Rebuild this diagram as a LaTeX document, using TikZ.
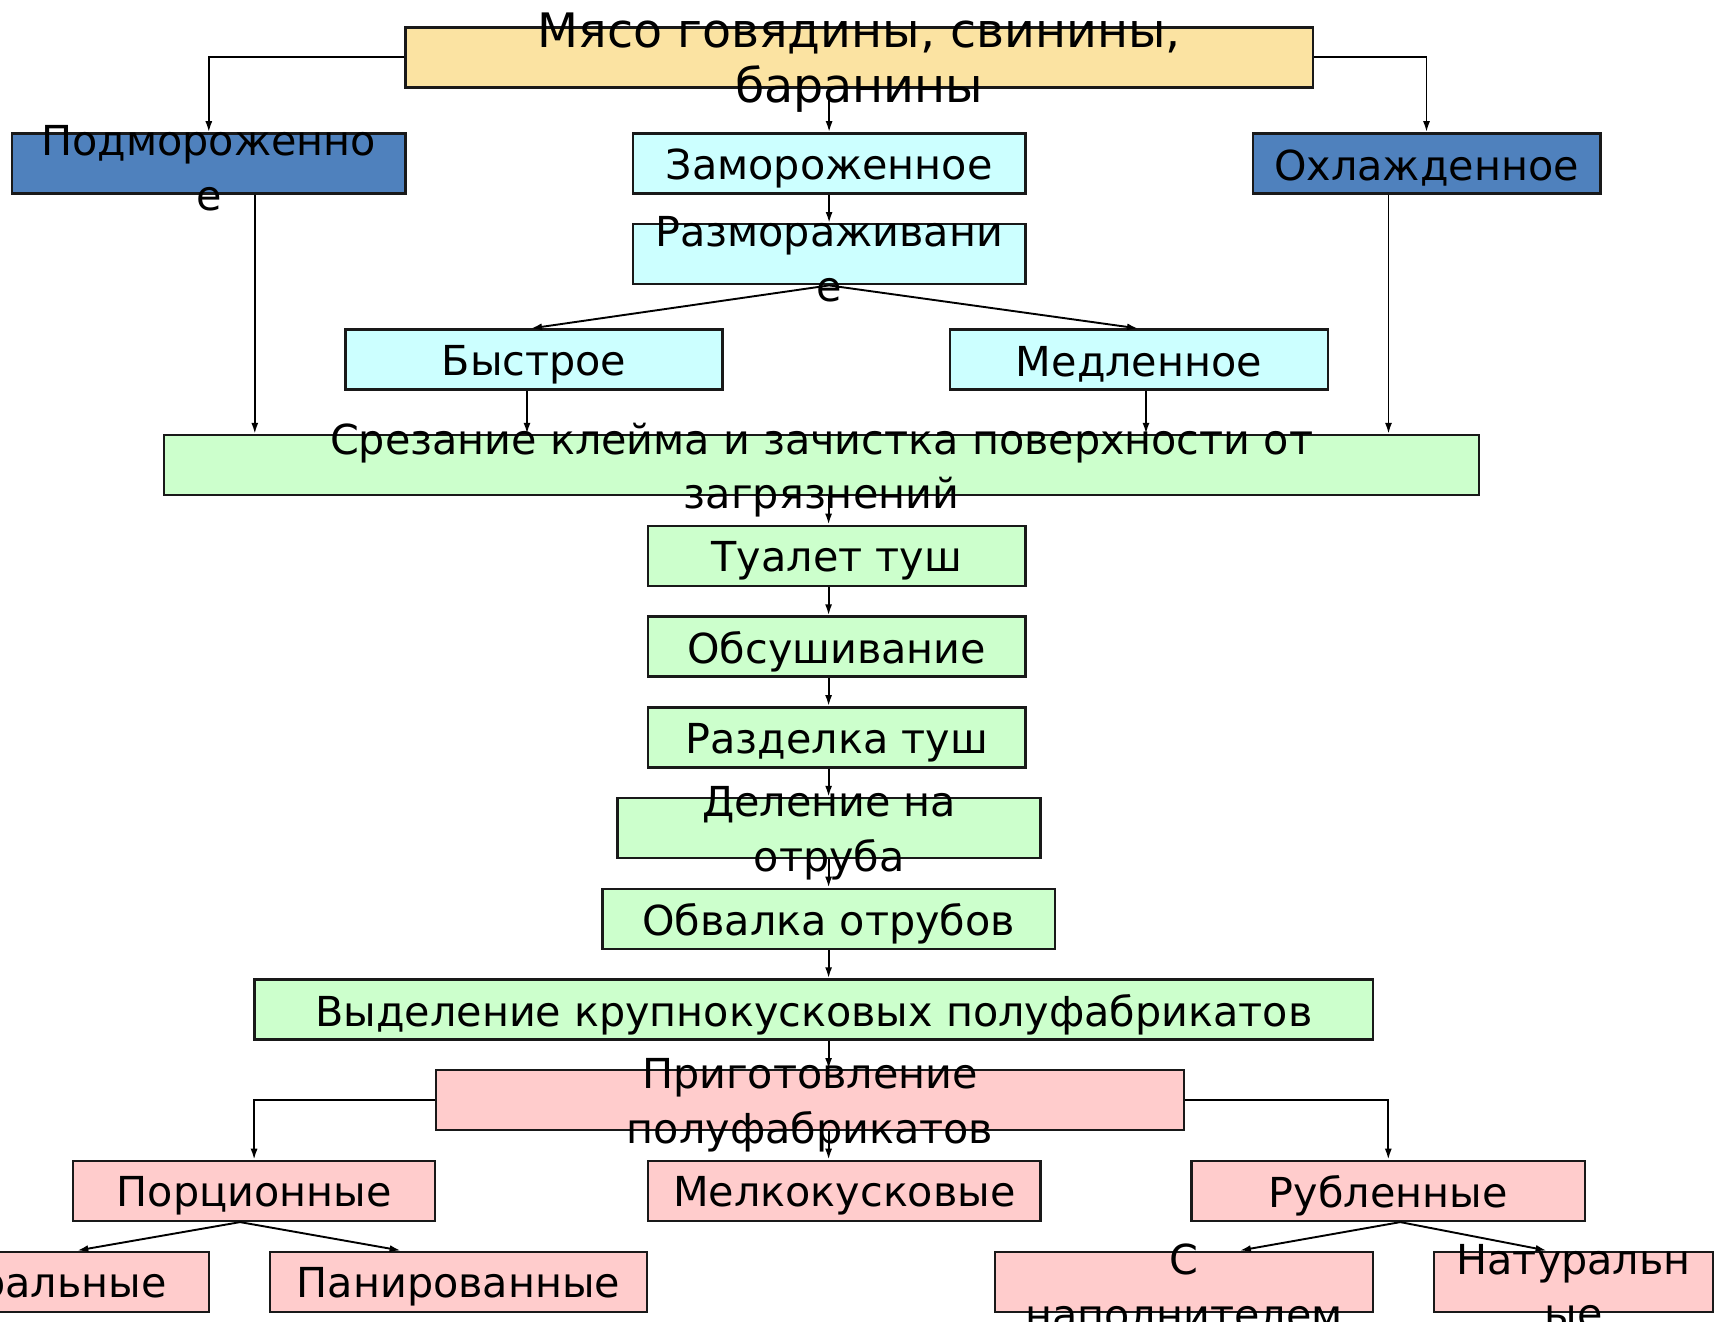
\documentclass[tikz,border=0pt]{standalone}
\usepackage{fontspec}
\setmainfont{DejaVu Sans}
\usetikzlibrary{arrows.meta}
\definecolor{cyellow}{HTML}{FBE3A2}
\definecolor{cblue}{HTML}{4F81BD}
\definecolor{ccyan}{HTML}{CCFFFF}
\definecolor{cgreen}{HTML}{CCFFCC}
\definecolor{cpink}{HTML}{FFCCCC}
\tikzset{
  box/.style={draw=black!90, line width=2.4pt, inner sep=0pt, minimum height=60pt},
  txt/.style={font=\fontsize{41.3}{54.7}\selectfont, align=center, inner sep=0pt, text=black, yshift=-5pt},
  bigtxt/.style={txt, font=\fontsize{47.5}{55}\selectfont},
  arr/.style={-{Latex[length=11pt,width=7pt]}, line width=1.9pt},
}
\begin{document}
\begin{tikzpicture}[x=1pt,y=-1pt]
\useasboundingbox (0,0) rectangle (1714,1322);
\clip (0,0) rectangle (1714,1322);
\fill[white] (0,0) rectangle (1714,1322);
\coordinate (cx) at (828.6,0);
% boxes
\node[box, fill=cyellow, minimum width=907.3] (top) at (859.2,57.4) {};
\node[box, fill=cblue, minimum width=393.5] (podm) at (208.8,163.4) {};
\node[box, fill=ccyan, minimum width=392.4] (zam) at (829.1,163.4) {};
\node[box, fill=cblue, minimum width=347.6] (ohl) at (1426.5,163.4) {};
\node[box, fill=ccyan, minimum width=392.4] (razm) at (829.1,254.2) {};
\node[box, fill=ccyan, minimum width=377.1] (bys) at (534,359.6) {};
\node[box, fill=ccyan, minimum width=378.2] (med) at (1139,359.6) {};
\node[box, fill=cgreen, minimum width=1315] (srez) at (821.5,465.1) {};
\node[box, fill=cgreen, minimum width=377.1] (tual) at (836.8,555.8) {};
\node[box, fill=cgreen, minimum width=377.1] (obs) at (836.8,646.6) {};
\node[box, fill=cgreen, minimum width=377.1] (razd) at (836.8,737.3) {};
\node[box, fill=cgreen, minimum width=423] (del) at (829.1,828.0) {};
\node[box, fill=cgreen, minimum width=452.5] (obv) at (828.6,918.8) {};
\node[box, fill=cgreen, minimum width=1118.3] (vyd) at (813.8,1009.5) {};
\node[box, fill=cpink, minimum width=747.7] (prig) at (810,1100.2) {};
\node[box, fill=cpink, minimum width=361.8] (porc) at (254.1,1190.9) {};
\node[box, fill=cpink, minimum width=392.4] (melk) at (844.4,1190.9) {};
\node[box, fill=cpink, minimum width=393.5] (rubl) at (1388.3,1190.9) {};
\node[box, fill=cpink, minimum width=377.1] (natl) at (20.3,1281.7) {};
\node[box, fill=cpink, minimum width=377.1] (pan) at (458.6,1281.7) {};
\node[box, fill=cpink, minimum width=378.3] (snap) at (1183.9,1281.7) {};
\node[box, fill=cpink, minimum width=278.8] (natr) at (1573.6,1281.7) {};
% connectors
\draw[arr] (top.west) -| (podm.north);
\draw[arr] (top.east) -| (ohl.north);
\draw[arr] (top.south -| zam.north) -- (zam.north);
\draw[arr] (zam.south) -- (razm.north);
\draw[arr] (razm.south) -- ([xshift=-3pt]bys.north);
\draw[arr] (razm.south) -- ([xshift=-1pt]med.north);
\draw[arr] ([xshift=46pt]podm.south) -- ([xshift=46pt]podm.south |- srez.north);
\draw[arr] ([xshift=-7pt]bys.south) -- ([xshift=-7pt]bys.south |- srez.north);
\draw[arr] ([xshift=7pt]med.south) -- ([xshift=7pt]med.south |- srez.north);
\draw[arr] ([xshift=-38pt]ohl.south) -- ([xshift=-38pt]ohl.south |- srez.north);
\draw[arr] (srez.south -| cx) -- (tual.north -| cx);
\draw[arr] (tual.south -| cx) -- (obs.north -| cx);
\draw[arr] (obs.south -| cx) -- (razd.north -| cx);
\draw[arr] (razd.south -| cx) -- (del.north -| cx);
\draw[arr] (del.south -| cx) -- (obv.north -| cx);
\draw[arr] (obv.south -| cx) -- (vyd.north -| cx);
\draw[arr] (vyd.south -| cx) -- (prig.north -| cx);
\draw[arr] (prig.west) -| (porc.north);
\draw[arr] (prig.east) -| (rubl.north);
\draw[arr] (prig.south -| cx) -- (melk.north -| cx);
\draw[arr] ([xshift=-14pt]porc.south) -- ([xshift=57pt]natl.north);
\draw[arr] ([xshift=-14pt]porc.south) -- ([xshift=-58pt]pan.north);
\draw[arr] ([xshift=12pt]rubl.south) -- ([xshift=56pt]snap.north);
\draw[arr] ([xshift=12pt]rubl.south) -- ([xshift=-27pt]natr.north);
% texts
\node[bigtxt] (top-t) at (top) {Мясо говядины, свинины,\\баранины};
\node[txt] (podm-t) at (podm) {Подмороженно\\е};
\node[txt] (zam-t) at (zam) {Замороженное};
\node[txt] (ohl-t) at (ohl) {Охлажденное};
\node[txt] (razm-t) at (razm) {Размораживани\\е};
\node[txt] (bys-t) at (bys) {Быстрое};
\node[txt] (med-t) at (med) {Медленное};
\node[txt] (srez-t) at (srez) {Срезание клейма и зачистка поверхности от\\загрязнений};
\node[txt] (tual-t) at (tual) {Туалет туш};
\node[txt] (obs-t) at (obs) {Обсушивание};
\node[txt] (razd-t) at (razd) {Разделка туш};
\node[txt] (del-t) at (del) {Деление на\\отруба};
\node[txt] (obv-t) at (obv) {Обвалка отрубов};
\node[txt] (vyd-t) at (vyd) {Выделение крупнокусковых полуфабрикатов};
\node[txt] (prig-t) at (prig) {Приготовление\\полуфабрикатов};
\node[txt] (porc-t) at (porc) {Порционные};
\node[txt] (melk-t) at (melk) {Мелкокусковые};
\node[txt] (rubl-t) at (rubl) {Рубленные};
\node[txt] (natl-t) at (natl) {Натуральные};
\node[txt] (pan-t) at (pan) {Панированные};
\node[txt] (snap-t) at (snap) {С\\наполнителем};
\node[txt] (natr-t) at (natr) {Натуральн\\ые};
\end{tikzpicture}
\end{document}
